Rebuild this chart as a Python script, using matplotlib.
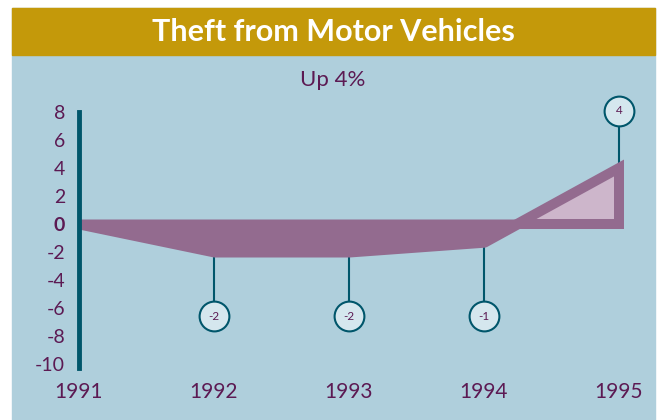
import matplotlib
matplotlib.use("Agg")
import matplotlib.pyplot as plt
from matplotlib.patches import Rectangle
import numpy as np

# data
years = [1991, 1992, 1993, 1994, 1995]
change = [0, -2, -2, -1.3, 4]
bubble_years = [1992, 1993, 1994, 1995]
bubble_labels = ["-2", "-2", "-1", "4"]
bubble_y = [-6.6, -6.6, -6.6, 8.1]
y_ticks = [8, 6, 4, 2, 0, -2, -4, -6, -8, -10]
y_tick_labels = ["8", "6", "4", "2", "0", "-2", "-4", "-6", "-8", "-10"]

bg = "#AFCFDC"
gold = "#C4990A"
band = "#936B8F"
light = "#CDB6CB"
teal = "#00566B"
purple = "#5C1A53"
bubble_face = "#D5E7EE"

plt.rcParams["font.family"] = ["Lato", "DejaVu Sans"]

W, H = 661, 420
fig = plt.figure(figsize=(W / 100, H / 100), dpi=100)
fig.patch.set_facecolor("white")

# panel background and title banner (figure pixel coords)
fig.patches.append(Rectangle((12 / W, 0), (655 - 12) / W, (H - 8) / H,
                             transform=fig.transFigure, color=bg, zorder=-2))
fig.patches.append(Rectangle((12 / W, (H - 55) / H), (655 - 12) / W, 47 / H,
                             transform=fig.transFigure, color=gold, zorder=-1))
fig.text(333 / W, (H - 32) / H, "Theft from Motor Vehicles", color="white",
         fontsize=22, fontweight="bold", ha="center", va="center")
fig.text(333 / W, (H - 80) / H, "Up 4%", color=purple, fontsize=16,
         ha="center", va="center")

ax = fig.add_axes([79 / W, (H - 364) / H, 540 / W, 252 / H])
ax.set_facecolor("none")
ax.set_xlim(1991, 1995)
ax.set_ylim(-10, 8)

x = np.array(years, dtype=float)
y = np.array(change, dtype=float)
lw = 7.2
ax.fill_between(x, 0, y, where=y <= 0, interpolate=True, facecolor=band,
                edgecolor=band, linewidth=lw, joinstyle="bevel", clip_on=False, zorder=2)
ax.fill_between(x, 0, y, where=y >= 0, interpolate=True, facecolor=light,
                edgecolor=band, linewidth=lw, joinstyle="miter", clip_on=False, zorder=2)

# bubbles with leader lines
for bx, lab, by in zip(bubble_years, bubble_labels, bubble_y):
    v = change[years.index(bx)]
    ax.plot([bx, bx], [v, by], color=teal, lw=1.5, zorder=1, clip_on=False)
    ax.scatter([bx], [by], s=460, facecolor=bubble_face, edgecolor=teal,
               linewidth=1.5, zorder=3, clip_on=False)
    ax.text(bx, by, lab, color=purple, fontsize=8.5, ha="center",
            va="center", zorder=4)

for s in ["top", "right", "bottom"]:
    ax.spines[s].set_visible(False)
ax.spines["left"].set_color(teal)
ax.spines["left"].set_linewidth(3.5)
ax.spines["left"].set_bounds(-10.3, 8.0)
ax.spines["left"].set_zorder(5)

ax.set_yticks(y_ticks)
ax.set_yticklabels(y_tick_labels)
ax.tick_params(axis="y", length=0, pad=10, labelsize=14, labelcolor=purple)
for t in ax.get_yticklabels():
    if t.get_text() == "0":
        t.set_fontweight("bold")

ax.set_xticks(years)
ax.set_xticklabels([str(v) for v in years])
ax.tick_params(axis="x", length=0, pad=13, labelsize=15, labelcolor=purple)

fig.savefig("out.png", dpi=100)
